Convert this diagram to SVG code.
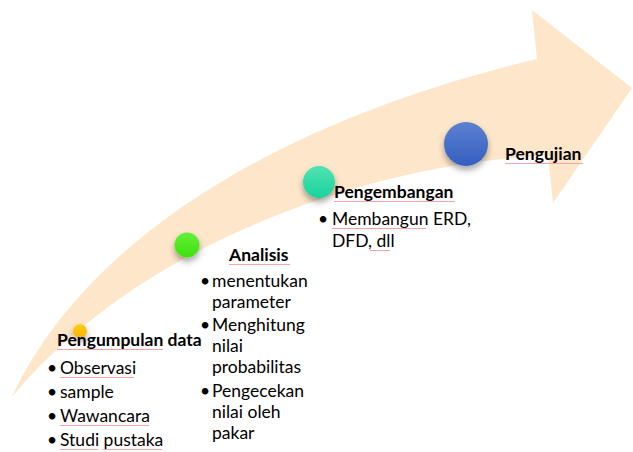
<svg xmlns="http://www.w3.org/2000/svg" width="633" height="452" viewBox="0 0 633 452">
  <style>
    .t { font-family: Lato, "Noto Sans", "Liberation Sans", sans-serif; font-size: 17.5px; fill: #000; }
    .b { font-weight: bold; }
    .bul { text-anchor: middle; }
    .sq { stroke: #f2a6a6; stroke-width: 1; fill: none; }
  </style>
  <defs>
    <filter id="sh" x="-50%" y="-50%" width="200%" height="220%">
      <feDropShadow dx="0" dy="4" stdDeviation="3" flood-color="#000" flood-opacity="0.35"/>
    </filter>
    <linearGradient id="gY" x1="0" y1="0" x2="0" y2="1">
      <stop offset="0" stop-color="#ffcc1a"/>
      <stop offset="1" stop-color="#f5b300"/>
    </linearGradient>
    <linearGradient id="gG" x1="0" y1="0" x2="0" y2="1">
      <stop offset="0" stop-color="#62ef3a"/>
      <stop offset="1" stop-color="#3fe00c"/>
    </linearGradient>
    <linearGradient id="gT" x1="0" y1="0" x2="0" y2="1">
      <stop offset="0" stop-color="#52e2b3"/>
      <stop offset="1" stop-color="#18d49b"/>
    </linearGradient>
    <linearGradient id="gB" x1="0" y1="0" x2="0" y2="1">
      <stop offset="0" stop-color="#5d80d0"/>
      <stop offset="1" stop-color="#335fc0"/>
    </linearGradient>
  </defs>
  <rect width="633" height="452" fill="#fff"/>

  <g id="connectors">
    <path id="arrow" fill="#fde6c9" d="M12,397 C80,250 260,125 537,59 L532,10 L632,88 L553,203 L548,156 C400,160 150,230 12,397 Z"/>
  </g>

  <g id="node-pengumpulan">
    <circle cx="80" cy="331" r="7" fill="url(#gY)" filter="url(#sh)"/>
    <text class="t b" x="57" y="346">Pengumpulan data</text>
    <text class="t bul" x="52" y="374">•</text>
    <text class="t" x="60" y="374">Observasi</text>
    <text class="t bul" x="52" y="398">•</text>
    <text class="t" x="60" y="398">sample</text>
    <text class="t bul" x="52" y="422">•</text>
    <text class="t" x="60" y="422">Wawancara</text>
    <text class="t bul" x="52" y="446">•</text>
    <text class="t" x="60" y="446">Studi pustaka</text>
  </g>

  <g id="node-analisis">
    <circle cx="187" cy="245" r="12.5" fill="url(#gG)" filter="url(#sh)"/>
    <text class="t b" x="229" y="261">Analisis</text>
    <text class="t bul" x="205" y="287">•</text>
    <text class="t" x="212" y="287">menentukan</text>
    <text class="t" x="212" y="308">parameter</text>
    <text class="t bul" x="205" y="331">•</text>
    <text class="t" x="212" y="331">Menghitung</text>
    <text class="t" x="212" y="352">nilai</text>
    <text class="t" x="212" y="373">probabilitas</text>
    <text class="t bul" x="205" y="397">•</text>
    <text class="t" x="212" y="397">Pengecekan</text>
    <text class="t" x="212" y="418">nilai oleh</text>
    <text class="t" x="212" y="439">pakar</text>
  </g>

  <g id="node-pengembangan">
    <circle cx="319" cy="182" r="16" fill="url(#gT)" filter="url(#sh)"/>
    <text class="t b" x="334" y="198">Pengembangan</text>
    <text class="t bul" x="323" y="225">•</text>
    <text class="t" x="332" y="225">Membangun ERD,</text>
    <text class="t" x="332" y="247">DFD, dll</text>
  </g>

  <g id="node-pengujian">
    <circle cx="466" cy="144" r="22" fill="url(#gB)" filter="url(#sh)"/>
    <text class="t b" x="505" y="160">Pengujian</text>
  </g>

  <g id="spellcheck">
    <line class="sq" x1="57" y1="349.5" x2="163" y2="349.5"/>
    <line class="sq" x1="60" y1="377.5" x2="134" y2="377.5"/>
    <line class="sq" x1="60" y1="425.5" x2="149" y2="425.5"/>
    <line class="sq" x1="60" y1="449.5" x2="98" y2="449.5"/>
    <line class="sq" x1="103" y1="449.5" x2="162" y2="449.5"/>
    <line class="sq" x1="229" y1="264.5" x2="290" y2="264.5"/>
    <line class="sq" x1="334" y1="201.5" x2="455" y2="201.5"/>
    <line class="sq" x1="332" y1="228.5" x2="426" y2="228.5"/>
    <line class="sq" x1="370" y1="250.5" x2="390" y2="250.5"/>
    <line class="sq" x1="505" y1="163.5" x2="583" y2="163.5"/>
  </g>
</svg>
